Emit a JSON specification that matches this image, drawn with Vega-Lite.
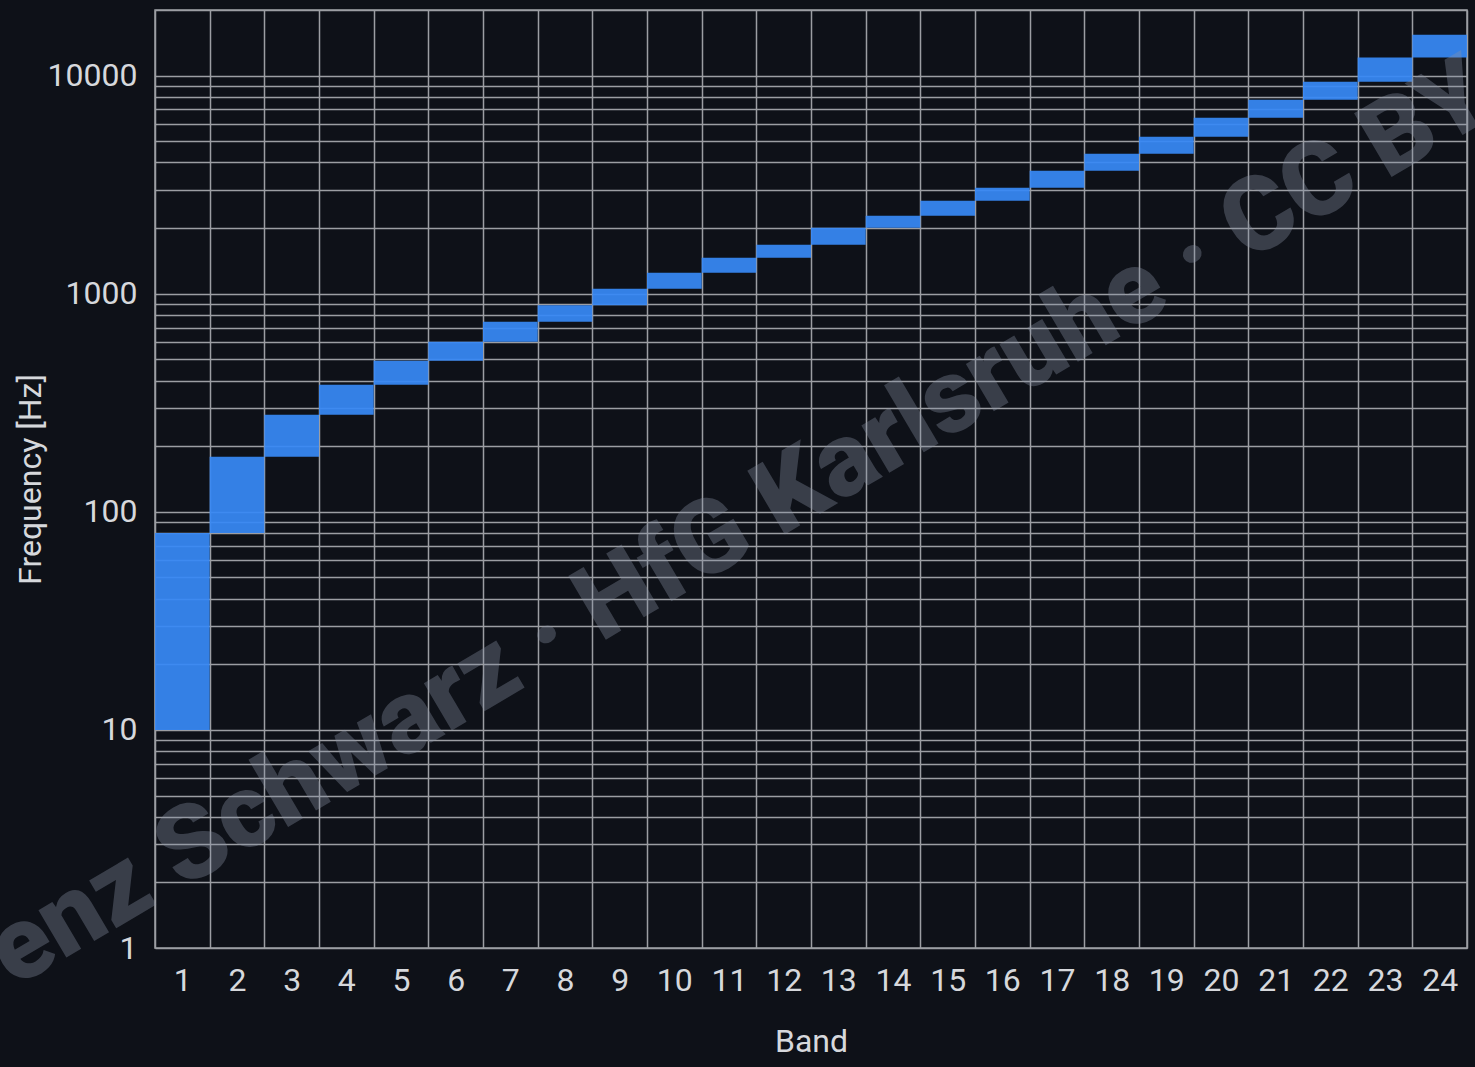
{
  "$schema": "https://vega.github.io/schema/vega-lite/v6.json",
  "autosize": {"type": "none"},
  "padding": {"left": 155, "top": 10, "right": 8, "bottom": 119},
  "width": 1312,
  "height": 938,
  "background": "#0e1118",
  "config": {
    "font": "Roboto",
    "view": {"stroke": "#9c9ea3", "strokeWidth": 1.5},
    "axis": {
      "labelFont": "Roboto",
      "titleFont": "Roboto",
      "labelColor": "#d6d8dc",
      "titleColor": "#d6d8dc",
      "labelFontSize": 32,
      "titleFontSize": 32,
      "titleFontWeight": "normal",
      "gridColor": "#9c9ea3",
      "gridWidth": 1.5,
      "gridOpacity": 1,
      "domain": false,
      "ticks": false,
      "tickSize": 0
    }
  },
  "datasets": {
    "bands": [
      {"band": 1, "lo": 10, "hi": 80},
      {"band": 2, "lo": 80, "hi": 179},
      {"band": 3, "lo": 179, "hi": 279},
      {"band": 4, "lo": 279, "hi": 383},
      {"band": 5, "lo": 383, "hi": 493},
      {"band": 6, "lo": 493, "hi": 602},
      {"band": 7, "lo": 602, "hi": 744},
      {"band": 8, "lo": 744, "hi": 885},
      {"band": 9, "lo": 885, "hi": 1054},
      {"band": 10, "lo": 1054, "hi": 1248},
      {"band": 11, "lo": 1248, "hi": 1463},
      {"band": 12, "lo": 1463, "hi": 1678},
      {"band": 13, "lo": 1678, "hi": 2009},
      {"band": 14, "lo": 2009, "hi": 2279},
      {"band": 15, "lo": 2279, "hi": 2672},
      {"band": 16, "lo": 2672, "hi": 3064},
      {"band": 17, "lo": 3064, "hi": 3666},
      {"band": 18, "lo": 3666, "hi": 4387},
      {"band": 19, "lo": 4387, "hi": 5250},
      {"band": 20, "lo": 5250, "hi": 6417},
      {"band": 21, "lo": 6417, "hi": 7762},
      {"band": 22, "lo": 7762, "hi": 9380},
      {"band": 23, "lo": 9380, "hi": 12100},
      {"band": 24, "lo": 12100, "hi": 15420}
    ],
    "mark": [
      {"text": "Lorenz Schwarz · HfG Karlsruhe · CC BY", "band": 10, "freq": 58}
    ]
  },
  "layer": [
    {
      "data": {"name": "bands"},
      "mark": {"type": "bar", "color": "#3789f5", "opacity": 0.93},
      "encoding": {
        "x": {
          "field": "band",
          "type": "ordinal",
          "scale": {"paddingInner": 0, "paddingOuter": 0},
          "axis": {
            "title": "Band",
            "labelAngle": 0,
            "tickBand": "extent",
            "grid": true,
            "labelPadding": 17,
            "titlePadding": 30
          }
        },
        "y": {
          "field": "lo",
          "type": "quantitative",
          "scale": {"type": "log", "domain": [1, 20000], "nice": false},
          "axis": {
            "title": "Frequency [Hz]",
            "grid": true,
            "values": [1,2,3,4,5,6,7,8,9,10,20,30,40,50,60,70,80,90,100,200,300,400,500,600,700,800,900,1000,2000,3000,4000,5000,6000,7000,8000,9000,10000,20000],
            "labelExpr": "indexof([1,10,100,1000,10000], datum.value) >= 0 ? format(datum.value, 'd') : ''",
            "labelPadding": 18,
            "titlePadding": 0
          }
        },
        "y2": {"field": "hi"}
      }
    },
    {
      "data": {"name": "mark"},
      "mark": {
        "type": "text",
        "font": "Roboto",
        "fontWeight": 900,
        "fontSize": 104,
        "angle": -30.5,
        "align": "center",
        "baseline": "middle",
        "dx": 0,
        "color": "#8a93a6",
        "opacity": 0.35
      },
      "encoding": {
        "x": {"field": "band", "type": "ordinal"},
        "y": {"field": "freq", "type": "quantitative"},
        "text": {"field": "text"}
      }
    }
  ]
}
